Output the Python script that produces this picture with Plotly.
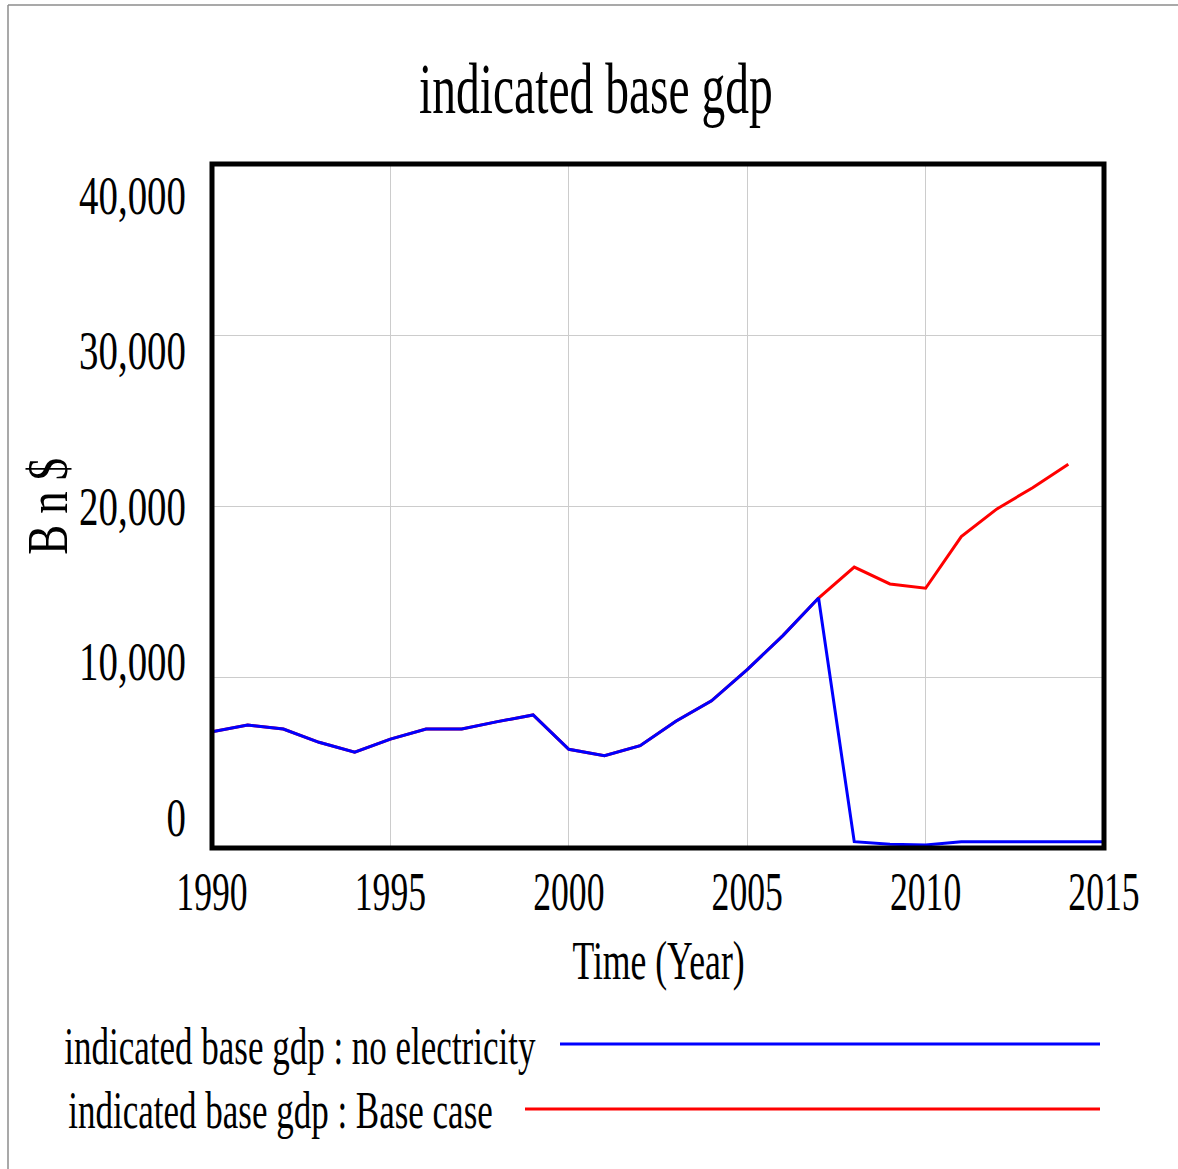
import json
import plotly.graph_objects as go

# Simulation output, Bn $ per year
years = list(range(1990, 2016))
no_electricity = [6800, 7190, 6960, 6180, 5600, 6370, 6960, 6960, 7390, 7780,
                  5770, 5400, 5980, 7410, 8610, 10430, 12420, 14620,
                  370, 215, 175, 370, 370, 370, 370, 370]
base_years = list(range(1990, 2015))
base_case = [6800, 7190, 6960, 6180, 5600, 6370, 6960, 6960, 7390, 7780,
             5770, 5400, 5980, 7410, 8610, 10430, 12420, 14620,
             16430, 15440, 15190, 18210, 19830, 21070, 22440]

x_ticks = [1990, 1995, 2000, 2005, 2010, 2015]
y_ticks = [0, 10000, 20000, 30000, 40000]
y_tick_text = ["0", "10,000", "20,000", "30,000", "40,000"]

title_text = "indicated base gdp"
x_title = "Time (Year)"
y_title = "B n $"
legend_names = ["indicated base gdp : no electricity", "indicated base gdp : Base case"]

FONT = "Liberation Serif"
W, H = 1178, 1169
L, R, T, B = 212, 74, 164, 321
PW, PH = W - L - R, H - T - B


def px(x):
    return (x - L) / PW


def py(y):
    return (H - B - y) / PH


fig = go.Figure()
fig.add_trace(go.Scatter(x=base_years, y=base_case, mode="lines", name=legend_names[1],
                         line=dict(color="#ff0000", width=3)))
fig.add_trace(go.Scatter(x=years, y=no_electricity, mode="lines", name=legend_names[0],
                         line=dict(color="#0000ff", width=3)))
# invisible anchor so the label axis (spread inside the frame) is drawn
fig.add_trace(go.Scatter(x=[years[0]], y=[y_ticks[0]], yaxis="y2", mode="markers",
                         marker=dict(opacity=0), hoverinfo="skip", showlegend=False))

fig.update_layout(
    width=W, height=H,
    margin=dict(l=L, r=R, t=T, b=B),
    paper_bgcolor="white", plot_bgcolor="white",
    showlegend=False,
    font=dict(family=FONT, color="black"),
    xaxis=dict(range=[1990, 2015], tickvals=x_ticks, showgrid=True, gridcolor="#cccccc",
               gridwidth=1, zeroline=False, ticks="", ticklabelstandoff=7,
               tickfont=dict(family=FONT, size=54, color="black")),
    yaxis=dict(range=[0, 40000], tickvals=y_ticks, showgrid=True, gridcolor="#cccccc",
               gridwidth=1, zeroline=False, showticklabels=False, ticks=""),
    yaxis2=dict(overlaying="y", side="left", range=[-2000, 42000], tickvals=y_ticks,
                ticktext=y_tick_text, showgrid=False, zeroline=False, ticks="",
                ticklabelstandoff=25, tickfont=dict(family=FONT, size=54, color="black")),
)

# plot frame and outer border
fig.add_shape(type="rect", xref="paper", yref="paper", x0=0, x1=1, y0=0, y1=1,
              line=dict(color="black", width=5), layer="above")
fig.add_shape(type="line", xref="paper", yref="paper", x0=px(8), x1=px(W + 5), y0=py(5), y1=py(5),
              line=dict(color="#8c8c8c", width=1.5))
fig.add_shape(type="line", xref="paper", yref="paper", x0=px(8), x1=px(8), y0=py(5), y1=py(H + 5),
              line=dict(color="#8c8c8c", width=1.5))

# titles
fig.add_annotation(text=title_text, xref="paper", yref="paper", x=px(596), y=py(89),
                   showarrow=False, xanchor="center", yanchor="middle",
                   font=dict(family=FONT, size=72, color="black"))
fig.add_annotation(text=x_title, xref="paper", yref="paper", x=px(658), y=py(961),
                   showarrow=False, xanchor="center", yanchor="middle",
                   font=dict(family=FONT, size=54, color="black"))
fig.add_annotation(text=y_title, xref="paper", yref="paper", x=px(48), y=py(507),
                   showarrow=False, xanchor="center", yanchor="middle", textangle=-90,
                   font=dict(family=FONT, size=56, color="black"))

# legend rows: label followed by a line sample
legend_rows = [
    (legend_names[0], "#0000ff", 300, 1046, 560, 1044),
    (legend_names[1], "#ff0000", 280, 1110, 525, 1109),
]
for name, color, cx, cy, lx0, ly in legend_rows:
    fig.add_annotation(text=name, xref="paper", yref="paper", x=px(cx), y=py(cy),
                       showarrow=False, xanchor="center", yanchor="middle",
                       font=dict(family=FONT, size=53, color="black"))
    fig.add_shape(type="line", xref="paper", yref="paper", x0=px(lx0), x1=px(1100),
                  y0=py(ly), y1=py(ly), line=dict(color=color, width=3))

# narrow the serif glyphs horizontally (value labels and the unit a bit less)
condense = """
var gd = document.getElementById('{plot_id}');
var unitLabel = %s;
gd.querySelectorAll('svg text').forEach(function (t) {
  var w = t.getComputedTextLength();
  if (w > 0) {
    var k = 0.66;
    if (t.parentNode.classList.contains('y2tick')) k = 0.72;
    if (t.textContent === unitLabel) k = 0.8;
    t.setAttribute('textLength', (w * k).toFixed(2));
    t.setAttribute('lengthAdjust', 'spacingAndGlyphs');
  }
});
""" % json.dumps(y_title)

fig.write_html("out.html", config={"displayModeBar": False}, post_script=condense)
